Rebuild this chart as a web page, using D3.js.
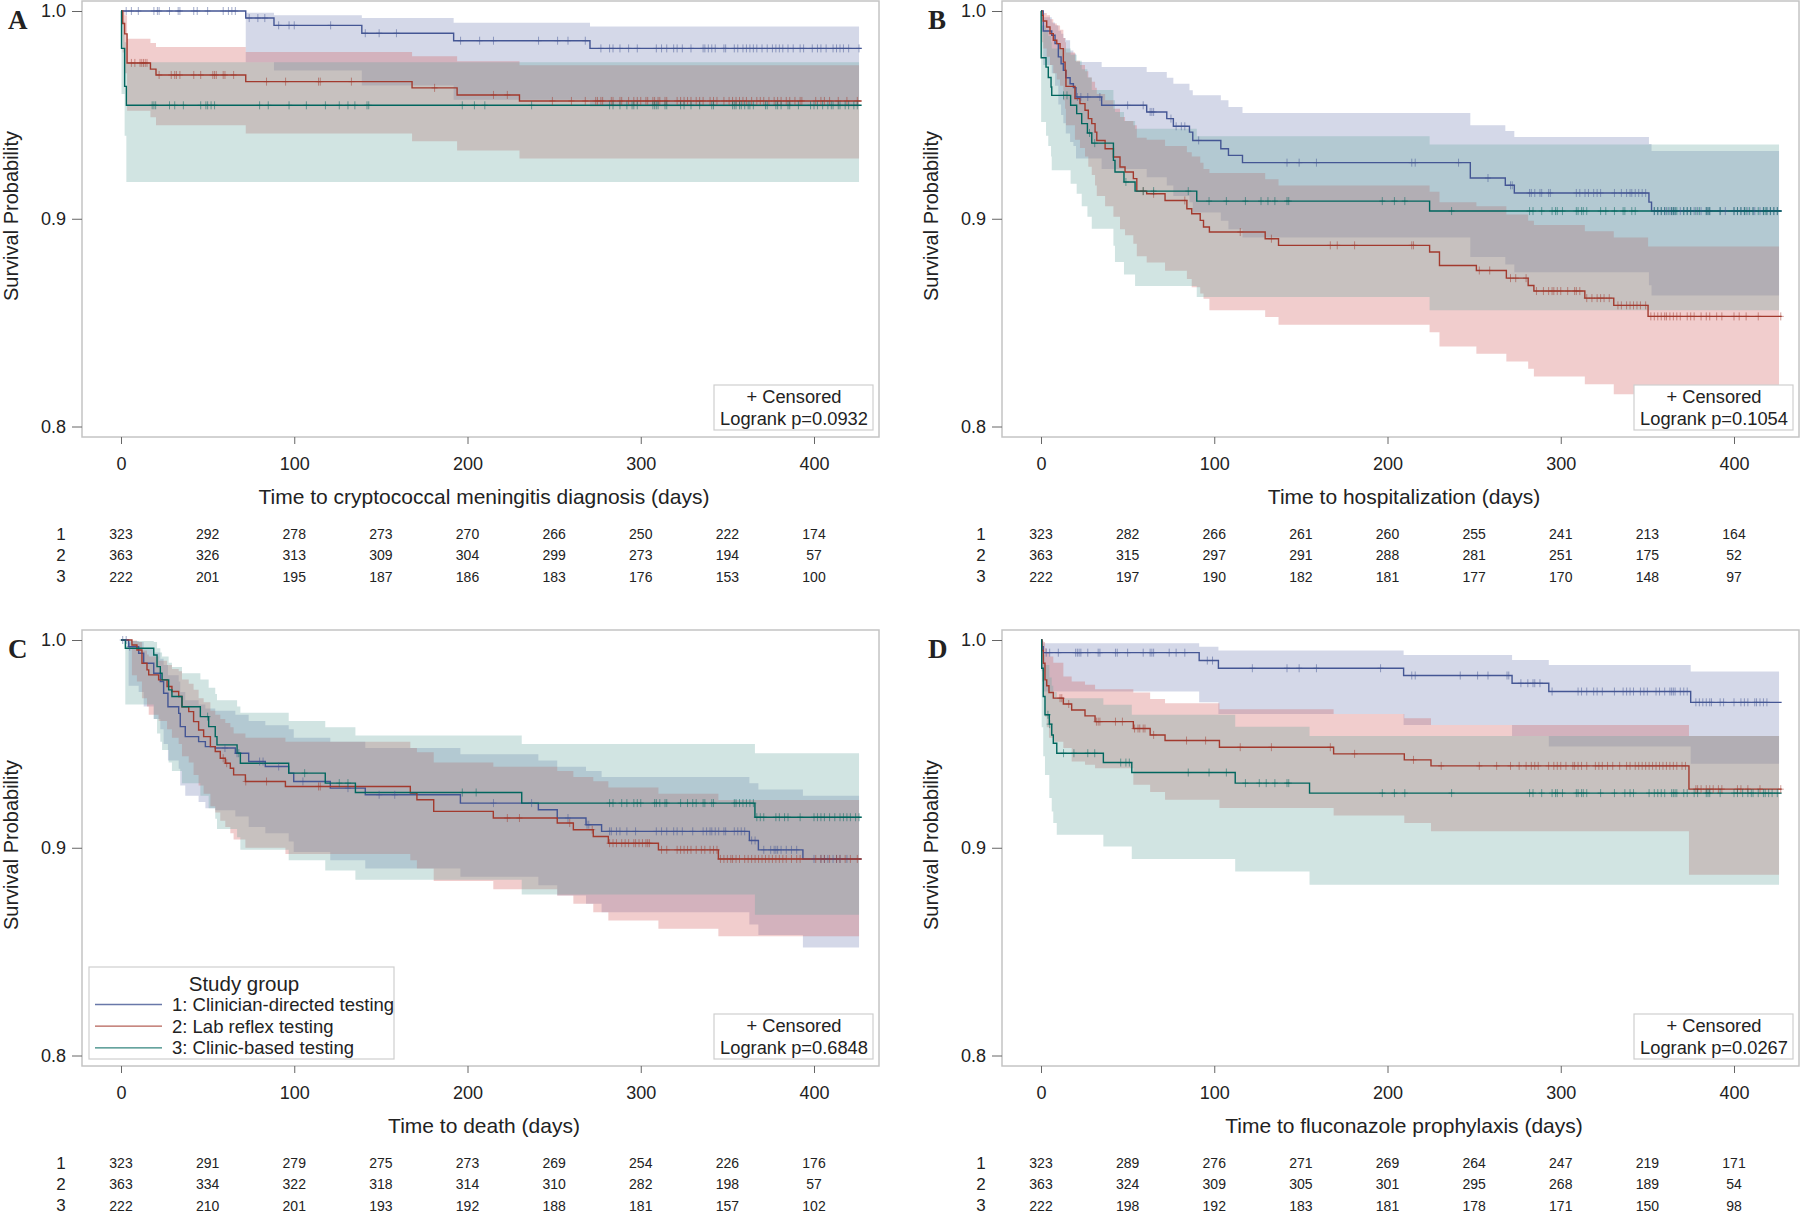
<!DOCTYPE html>
<html>
<head>
<meta charset="utf-8">
<script src="https://cdn.jsdelivr.net/npm/d3@7"></script>
<style>
  body { margin: 0; background: #fff; }
  svg text { font-family: "Liberation Sans", Arial, sans-serif; fill: #222; }
</style>
</head>
<body>
<svg id="canvas" width="1800" height="1214"></svg>
<script>
// ---- shared labels ----
const dayTicks = [0, 100, 200, 300, 400];
const riskDays = [0, 50, 100, 150, 200, 250, 300, 350, 400];
const survTicks = [0.8, 0.9, 1.0];
const groupLabels = ['1: Clinician-directed testing', '2: Lab reflex testing', '3: Clinic-based testing'];
const panelLetters = ['A', 'B', 'C', 'D'];
const xTitles = [
  'Time to cryptococcal meningitis diagnosis (days)',
  'Time to hospitalization (days)',
  'Time to death (days)',
  'Time to fluconazole prophylaxis (days)'
];
const logrankP = ['0.0932', '0.1054', '0.6848', '0.0267'];

// ---- KM steps: [day, survival, lower CL, upper CL] ----
const kmA1 = [[0,1,1,1],[72,0.9966,0.9753,0.9992],[88.3,0.9931,0.9713,0.998],[139,0.9893,0.9642,0.9966],[192,0.9857,0.9573,0.9944],[270.7,0.982,0.954,0.9925]];
const kmA2 = [[0,1,1,1],[1,0.994,0.98,0.9995],[2.1,0.989,0.97,0.998],[3.5,0.975,0.952,0.9867],[17,0.972,0.9488,0.9846],[20.2,0.9692,0.945,0.9827],[72,0.966,0.941,0.9803],[168,0.963,0.9373,0.9782],[194,0.9596,0.9329,0.9758],[230,0.9567,0.929,0.9739]];
const kmA3 = [[0,1,1,1],[0.3,0.982,0.96,0.995],[2.1,0.9637,0.94,0.985],[3.1,0.9546,0.9177,0.9753]];

const kmB1 = [[0,1,1,1],[1.3,0.9904,0.974,0.997],[6.2,0.9883,0.970,0.9945],[8.1,0.9843,0.964,0.9931],[10,0.9779,0.955,0.9905],[11.6,0.9746,0.950,0.9891],[12.9,0.9714,0.946,0.987],[14.3,0.9679,0.941,0.9859],[16.8,0.965,0.937,0.981],[18.7,0.9631,0.935,0.9795],[20.2,0.9586,0.929,0.9754],[35,0.9546,0.924,0.973],[61,0.9514,0.920,0.9706],[72.6,0.9482,0.916,0.9679],[76.4,0.9445,0.911,0.965],[85.7,0.9417,0.908,0.9618],[87.6,0.9377,0.903,0.9594],[103.8,0.9337,0.899,0.957],[108.2,0.9305,0.895,0.9538],[116.3,0.927,0.891,0.9509],[247.8,0.9196,0.8816,0.945],[268,0.9161,0.878,0.9422],[273.2,0.9124,0.8743,0.9393],[350.9,0.908,0.868,0.936],[352.4,0.9037,0.8631,0.9326]];
const kmB2 = [[0,1,1,1],[0.6,0.9979,0.985,0.9998],[1.3,0.9952,0.982,0.999],[3.3,0.9923,0.978,0.998],[5.2,0.9891,0.974,0.996],[7.1,0.9859,0.970,0.994],[9.1,0.9843,0.967,0.993],[11,0.9819,0.964,0.991],[12.9,0.9754,0.957,0.987],[13.9,0.9714,0.953,0.985],[14.4,0.9637,0.945,0.980],[19.6,0.9578,0.938,0.976],[22.5,0.9554,0.934,0.974],[25.4,0.9522,0.930,0.971],[27.3,0.9482,0.925,0.968],[29.3,0.9458,0.921,0.966],[31.2,0.9417,0.916,0.963],[32.2,0.9377,0.911,0.960],[37,0.9337,0.906,0.957],[41.8,0.9297,0.901,0.953],[45.6,0.9249,0.895,0.949],[48.5,0.9225,0.892,0.947],[53.3,0.9193,0.888,0.945],[55.3,0.9133,0.882,0.939],[61,0.912,0.879,0.938],[71.6,0.9088,0.875,0.935],[84.2,0.9048,0.871,0.932],[87,0.9024,0.867,0.930],[91.9,0.8992,0.864,0.927],[93.8,0.896,0.8615,0.924],[97.2,0.8936,0.856,0.922],[129.4,0.8904,0.8527,0.919],[137.1,0.8872,0.849,0.916],[224.3,0.884,0.8454,0.913],[230,0.8775,0.8385,0.908],[251.3,0.8751,0.835,0.906],[268.6,0.8714,0.8313,0.902],[281.2,0.8679,0.8278,0.899],[284.5,0.8652,0.8241,0.897],[313.9,0.8618,0.8203,0.894],[330.6,0.8583,0.8155,0.891],[350.4,0.853,0.81,0.8867]];
const kmB3 = [[0,1,1,1],[0.1,0.9775,0.9466,0.993],[2.9,0.973,0.94,0.991],[4.2,0.968,0.935,0.988],[5.8,0.9634,0.93,0.985],[6.2,0.9594,0.9233,0.982],[17.1,0.9546,0.9169,0.979],[20.6,0.9506,0.912,0.976],[23.5,0.9458,0.906,0.972],[26.8,0.9413,0.901,0.968],[29.3,0.9364,0.8952,0.962],[41.8,0.9281,0.887,0.957],[42.7,0.9225,0.8792,0.9514],[47.9,0.9177,0.8732,0.947],[54.3,0.9133,0.8676,0.9433],[89.9,0.9085,0.8623,0.9397],[224.3,0.9037,0.8559,0.9358]];

const kmC1 = [[0,1,1,1],[4.4,0.9968,0.978,0.9995],[10.2,0.9936,0.975,0.999],[13.1,0.9888,0.968,0.996],[18.9,0.984,0.962,0.994],[22.7,0.98,0.957,0.991],[24.6,0.9744,0.950,0.988],[27.1,0.9679,0.942,0.983],[33.3,0.9647,0.938,0.980],[34.2,0.9583,0.930,0.975],[37.1,0.9535,0.925,0.971],[44.8,0.9511,0.922,0.969],[48.7,0.9487,0.919,0.967],[54.4,0.948,0.918,0.966],[66,0.9455,0.915,0.964],[73.7,0.9415,0.910,0.961],[83.3,0.9391,0.907,0.959],[96.8,0.9359,0.903,0.957],[99.7,0.9319,0.898,0.953],[120.8,0.9287,0.894,0.951],[141,0.9255,0.890,0.948],[195.9,0.9215,0.886,0.945],[240.9,0.9183,0.882,0.942],[251.8,0.9143,0.877,0.939],[268.4,0.9111,0.873,0.937],[277.4,0.9079,0.869,0.934],[362.7,0.9035,0.863,0.931],[367.9,0.899,0.858,0.928],[393.6,0.8946,0.852,0.925]];
const kmC2 = [[0,1,1,1],[6.3,0.9976,0.983,0.9997],[9.2,0.9952,0.980,0.999],[12.1,0.9888,0.972,0.995],[15,0.9856,0.968,0.993],[16,0.9832,0.964,0.992],[21.7,0.9808,0.961,0.990],[26.6,0.9776,0.957,0.988],[29.4,0.9752,0.953,0.986],[33.3,0.9728,0.950,0.985],[35.2,0.9679,0.944,0.981],[39.1,0.9655,0.941,0.979],[41.9,0.9607,0.935,0.976],[44.8,0.9567,0.930,0.972],[47.7,0.9535,0.926,0.970],[51.6,0.9487,0.920,0.966],[54.4,0.9463,0.917,0.964],[57.3,0.9431,0.913,0.962],[60.2,0.9407,0.910,0.960],[63.1,0.9383,0.907,0.958],[65,0.9351,0.904,0.955],[71.8,0.9319,0.900,0.953],[94.9,0.9295,0.897,0.951],[167,0.9263,0.894,0.948],[170.8,0.9231,0.890,0.946],[180.5,0.9175,0.884,0.941],[214.9,0.9143,0.880,0.939],[251.8,0.9119,0.877,0.937],[261.1,0.9087,0.873,0.934],[272.6,0.9054,0.869,0.932],[281.3,0.9022,0.865,0.929],[310.2,0.899,0.861,0.926],[344.8,0.8946,0.8574,0.923]];
const kmC3 = [[0,1,1,1],[2.5,0.996,0.969,0.9995],[18.9,0.9928,0.962,0.999],[20.8,0.9872,0.955,0.996],[22.7,0.984,0.951,0.994],[23.7,0.9808,0.947,0.992],[27.5,0.976,0.941,0.989],[29.4,0.9728,0.937,0.987],[35.2,0.9679,0.931,0.984],[45.8,0.9631,0.925,0.981],[50.6,0.9583,0.919,0.977],[54.4,0.9535,0.914,0.974],[55.4,0.9495,0.909,0.971],[67,0.9455,0.905,0.968],[68.9,0.9407,0.899,0.965],[96.8,0.9359,0.894,0.961],[117.9,0.9311,0.889,0.958],[135.3,0.9266,0.8846,0.954],[231.3,0.9215,0.8775,0.950],[365.9,0.9147,0.8678,0.9455]];

const kmD1 = [[0,1,1,1],[0.4,0.9968,0.985,0.9995],[1.3,0.9939,0.9752,0.9984],[91.3,0.9901,0.970,0.9968],[102.4,0.9864,0.9644,0.9949],[209.3,0.9829,0.9591,0.9928],[271.9,0.9792,0.9538,0.9904],[293.1,0.9752,0.9487,0.988],[375,0.97,0.9404,0.9848]];
const kmD2 = [[0,1,1,1],[0.6,0.995,0.98,0.9995],[1.3,0.9888,0.973,0.999],[2.3,0.9808,0.963,0.996],[3.3,0.978,0.958,0.994],[4.6,0.9747,0.953,0.992],[7.1,0.972,0.951,0.989],[12.9,0.9692,0.948,0.9824],[17.7,0.9663,0.9415,0.980],[25.4,0.9635,0.940,0.9784],[31.2,0.9607,0.9383,0.9763],[53.3,0.9574,0.9303,0.9747],[63,0.9543,0.9268,0.9716],[71.6,0.9516,0.9231,0.9696],[103,0.9484,0.9191,0.9667],[168.9,0.9452,0.9155,0.9644],[209.7,0.9423,0.9119,0.9623],[225.1,0.9394,0.9079,0.9591],[374,0.9282,0.887,0.9538]];
const kmD3 = [[0,1,1,1],[0.4,0.9864,0.958,0.998],[1.3,0.9728,0.944,0.993],[2.3,0.964,0.935,0.988],[4.8,0.9595,0.9239,0.982],[6.2,0.9543,0.9175,0.978],[7.1,0.9503,0.9119,0.975],[9.1,0.9455,0.9062,0.972],[36,0.941,0.9006,0.9688],[52.4,0.9362,0.8946,0.964],[112.1,0.9311,0.8886,0.9583],[155,0.9263,0.8822,0.9538]];

// ---- censored times (days) ----
const censA1 = [3,6,10,19,21,22,28,33,34,42,44,50,59,62,64,66,74,79,83,91,97,100,121,141,149,159,196,207,215,241,252,258,268,277,282,284,288,293,298,309,312,315,319,321,324,329,336,337,339,341,343,348,349,354,356,359,361,363,365,367,370,373,376,378,380,382,385,388,392,394,399,402,404,407,411,413,415,417,420,426];
const censA2 = [6,8,11,12,13,14,15,22,29,31,32,34,42,46,53,54,55,59,60,65,84,95,114,115,133,181,215,223,249,260,268,274,275,277,278,283,284,288,289,293,296,298,300,303,304,307,308,310,311,314,315,321,323,325,327,329,332,334,336,340,342,344,348,351,353,355,357,359,361,364,367,369,371,374,377,379,381,384,386,389,392,393,401,404,406,409,414,419,425];
const censA3 = [18,19,20,28,31,36,46,49,50,52,54,80,85,97,107,118,126,131,135,142,143,197,204,210,237,282,284,288,292,295,296,298,307,308,309,310,314,315,323,325,329,334,341,342,353,354,355,357,358,360,362,363,365,372,373,378,379,381,385,386,391,398,400,402,405,408,410,411,414,415,418,420,423,425];
const censB1 = [21,23,27,34,50,59,63,64,65,75,78,81,83,91,142,149,159,214,216,241,258,271,272,282,283,285,288,289,293,294,309,311,314,316,319,321,323,331,335,338,340,341,343,345,347,349,354,356,358,360,361,363,364,365,366,369,371,373,375,377,379,381,384,385,386,392,395,400,402,404,406,408,411,412,415,417,419,421,423,425];
const censB2 = [59,65,83,115,133,167,171,181,214,215,253,259,271,274,280,286,290,293,295,296,298,300,304,308,309,311,315,318,321,323,325,328,333,335,338,340,342,344,346,349,352,354,356,358,360,361,363,365,367,369,373,375,377,381,384,386,390,393,400,403,407,414,427];
const censB3 = [13,15,28,31,49,59,65,85,97,107,118,127,131,135,142,143,197,204,210,237,282,284,289,295,297,298,301,309,310,312,313,315,323,326,331,336,337,341,343,354,356,358,360,362,364,365,366,367,371,373,375,378,380,384,385,386,392,400,402,404,406,407,409,411,414,417,418,419,421,423,425];
const censC1 = [1,3,5,60,67,80,82,91,105,131,149,158,215,237,258,269,270,282,283,286,288,292,297,309,312,315,319,321,324,330,336,338,340,341,343,345,348,349,354,356,358,360,364,366,371,375,377,378,379,381,384,387,390,400,404,406,408,411,413,415,419];
const censC2 = [59,61,72,84,114,115,223,230,259,272,282,284,286,289,291,293,296,297,299,301,303,304,305,312,315,321,323,325,327,329,332,335,337,340,342,344,346,348,350,352,353,355,357,360,362,364,366,368,370,372,374,376,378,380,382,384,387,390,392,401,404,406,409,413,415,418,421,425];
const censC3 = [50,68,106,126,131,197,205,282,284,289,292,296,298,300,308,309,311,314,315,323,327,330,332,336,337,341,342,354,355,357,359,361,363,365,367,369,371,378,380,383,385,392,400,402,404,406,409,412,415,417,419,421,424,426];
const censD1 = [3,5,10,20,21,22,23,27,33,34,43,44,50,59,63,64,65,74,78,83,96,99,122,142,149,159,196,214,216,242,252,258,269,270,277,281,284,285,288,295,310,312,315,319,321,324,331,336,338,340,342,346,348,350,355,357,360,363,364,365,366,369,371,373,378,380,382,384,386,387,392,394,400,404,406,408,412,413,415,417,419];
const censD2 = [11,12,16,32,33,34,43,47,54,56,57,59,60,65,84,95,115,133,167,181,215,231,253,263,271,276,280,283,285,287,293,296,298,300,303,307,308,310,312,315,320,322,324,327,330,334,338,340,343,345,347,349,351,353,355,357,359,361,363,365,367,370,372,378,379,381,384,386,388,391,393,402,404,408,415,427];
const censD3 = [4,5,13,19,27,31,46,49,51,85,97,107,118,126,130,135,142,143,197,204,210,237,282,284,289,295,297,298,301,309,310,312,313,315,323,331,337,340,342,351,354,356,358,360,364,365,366,367,371,373,377,379,384,385,386,392,400,402,405,408,410,411,414,417,418,420,422,425];

// ---- number at risk ----
const riskA1 = [323,292,278,273,270,266,250,222,174];
const riskA2 = [363,326,313,309,304,299,273,194,57];
const riskA3 = [222,201,195,187,186,183,176,153,100];
const riskB1 = [323,282,266,261,260,255,241,213,164];
const riskB2 = [363,315,297,291,288,281,251,175,52];
const riskB3 = [222,197,190,182,181,177,170,148,97];
const riskC1 = [323,291,279,275,273,269,254,226,176];
const riskC2 = [363,334,322,318,314,310,282,198,57];
const riskC3 = [222,210,201,193,192,188,181,157,102];
const riskD1 = [323,289,276,271,269,264,247,219,171];
const riskD2 = [363,324,309,305,301,295,268,189,54];
const riskD3 = [222,198,192,183,181,178,171,150,98];

// styling
const lineColor = ['#445694', '#A23A2E', '#01665E'];
const bandColor = ['#6F7EB3', '#D05B5B', '#66A5A0'];
const lineEnd = 427.5, bandEnd = 426;

const svg = d3.select('#canvas');

const panels = [
  { left: 82,   top: 1,   km: [kmA1, kmA2, kmA3], cens: [censA1, censA2, censA3], risk: [riskA1, riskA2, riskA3] },
  { left: 1002, top: 1,   km: [kmB1, kmB2, kmB3], cens: [censB1, censB2, censB3], risk: [riskB1, riskB2, riskB3] },
  { left: 82,   top: 630, km: [kmC1, kmC2, kmC3], cens: [censC1, censC2, censC3], risk: [riskC1, riskC2, riskC3], legend: true },
  { left: 1002, top: 630, km: [kmD1, kmD2, kmD3], cens: [censD1, censD2, censD3], risk: [riskD1, riskD2, riskD3] }
];

panels.forEach((p, i) => drawPanel(p, i));

// survival value of a step table at a given day
function survAt(steps, day) {
  let s = 1;
  for (const r of steps) { if (r[0] <= day) s = r[1]; else break; }
  return s;
}

function drawPanel(p, i) {
  const W = 797, H = 436;
  const g = svg.append('g');
  const x = d3.scaleLinear().domain([0, 400]).range([p.left + 39, p.left + 732]);
  const y = d3.scaleLinear().domain([0.8, 1]).range([p.top + 425.5, p.top + 10]);

  // confidence bands
  const band = d3.area().curve(d3.curveStepAfter)
    .x(d => x(d[0])).y0(d => y(d[2])).y1(d => y(d[3]));
  p.km.forEach((steps, k) => {
    const last = steps[steps.length - 1];
    g.append('path')
      .attr('d', band(steps.concat([[bandEnd, last[1], last[2], last[3]]])))
      .attr('fill', bandColor[k]).attr('fill-opacity', 0.3);
  });

  // survival step lines
  const line = d3.line().curve(d3.curveStepAfter).x(d => x(d[0])).y(d => y(d[1]));
  p.km.forEach((steps, k) => {
    const last = steps[steps.length - 1];
    g.append('path')
      .attr('d', line(steps.concat([[lineEnd, last[1]]])))
      .attr('fill', 'none').attr('stroke', lineColor[k]).attr('stroke-width', 1.4);
  });

  // censor marks
  p.cens.forEach((days, k) => {
    g.append('g').selectAll('path').data(days).join('path')
      .attr('d', d => {
        const cx = x(d), cy = y(survAt(p.km[k], d));
        return `M${cx},${cy - 4}V${cy + 4}M${cx - 3},${cy}H${cx + 3}`;
      })
      .attr('stroke', lineColor[k]).attr('stroke-width', 1).attr('stroke-opacity', 0.5)
      .attr('fill', 'none');
  });

  // frame
  g.append('rect').attr('x', p.left).attr('y', p.top).attr('width', W).attr('height', H)
    .attr('fill', 'none').attr('stroke', '#c4c4c4').attr('stroke-width', 1.5);

  // y axis
  const yAxis = d3.axisLeft(y).tickValues(survTicks).tickFormat(d3.format('.1f')).tickSize(10).tickPadding(6);
  const ya = g.append('g').attr('transform', `translate(${p.left},0)`).call(yAxis);
  ya.select('.domain').remove();
  ya.selectAll('line').attr('stroke', '#666');
  ya.selectAll('text').attr('font-size', 18).style('font-family', null).attr('fill', '#222');

  // x axis
  const xAxis = d3.axisBottom(x).tickValues(dayTicks).tickFormat(d3.format('d')).tickSize(7).tickPadding(13);
  const xa = g.append('g').attr('transform', `translate(0,${p.top + H})`).call(xAxis);
  xa.select('.domain').remove();
  xa.selectAll('line').attr('stroke', '#666');
  xa.selectAll('text').attr('font-size', 18).style('font-family', null).attr('fill', '#222');

  // axis titles
  g.append('text').attr('x', p.left + 402).attr('y', p.top + 495)
    .attr('text-anchor', 'middle').attr('dominant-baseline', 'central')
    .attr('font-size', 21).text(xTitles[i]);
  g.append('text')
    .attr('transform', `translate(${p.left - 71},${p.top + 215}) rotate(-90)`)
    .attr('text-anchor', 'middle').attr('dominant-baseline', 'central')
    .attr('font-size', 20).text('Survival Probability');

  // panel letter
  g.append('text').attr('x', p.left - 74).attr('y', p.top + 28)
    .style('font-family', '"Liberation Serif", "Times New Roman", serif')
    .attr('font-weight', 'bold').attr('font-size', 27).attr('fill', '#000')
    .text(panelLetters[i]);

  // censored / logrank box
  const bx = p.left + 632, by = p.top + 384;
  g.append('rect').attr('x', bx).attr('y', by).attr('width', 159).attr('height', 45)
    .attr('fill', '#fff').attr('stroke', '#cfcfcf').attr('stroke-width', 1.2);
  g.append('text').attr('x', bx + 80).attr('y', by + 11).attr('text-anchor', 'middle')
    .attr('dominant-baseline', 'central').attr('font-size', 18.3).text('+ Censored');
  g.append('text').attr('x', bx + 80).attr('y', by + 33).attr('text-anchor', 'middle')
    .attr('dominant-baseline', 'central').attr('font-size', 18.3).text('Logrank p=' + logrankP[i]);

  // number at risk table
  p.risk.forEach((row, k) => {
    const ry = p.top + 533 + k * 21.3;
    g.append('text').attr('x', p.left - 21).attr('y', ry).attr('text-anchor', 'middle')
      .attr('dominant-baseline', 'central').attr('font-size', 17).attr('fill', lineColor[k])
      .text(k + 1);
    g.append('g').selectAll('text').data(row).join('text')
      .attr('x', (d, j) => x(riskDays[j])).attr('y', ry)
      .attr('text-anchor', 'middle').attr('dominant-baseline', 'central')
      .attr('font-size', 14).attr('fill', lineColor[k])
      .text(d => d);
  });

  // legend (panel C only)
  if (p.legend) {
    const lx = p.left + 7, ly = p.top + 337;
    g.append('rect').attr('x', lx).attr('y', ly).attr('width', 305).attr('height', 92)
      .attr('fill', '#fff').attr('stroke', '#cfcfcf').attr('stroke-width', 1.2);
    g.append('text').attr('x', lx + 155).attr('y', ly + 16).attr('text-anchor', 'middle')
      .attr('dominant-baseline', 'central').attr('font-size', 20.5).text('Study group');
    groupLabels.forEach((lab, k) => {
      const yy = ly + 37.5 + k * 21.7;
      g.append('line').attr('x1', lx + 6).attr('x2', lx + 73).attr('y1', yy).attr('y2', yy)
        .attr('stroke', lineColor[k]).attr('stroke-width', 1.3).attr('stroke-opacity', 0.8);
      g.append('text').attr('x', lx + 83).attr('y', yy).attr('dominant-baseline', 'central')
        .attr('font-size', 18.5).text(lab);
    });
  }
}
</script>
</body>
</html>
